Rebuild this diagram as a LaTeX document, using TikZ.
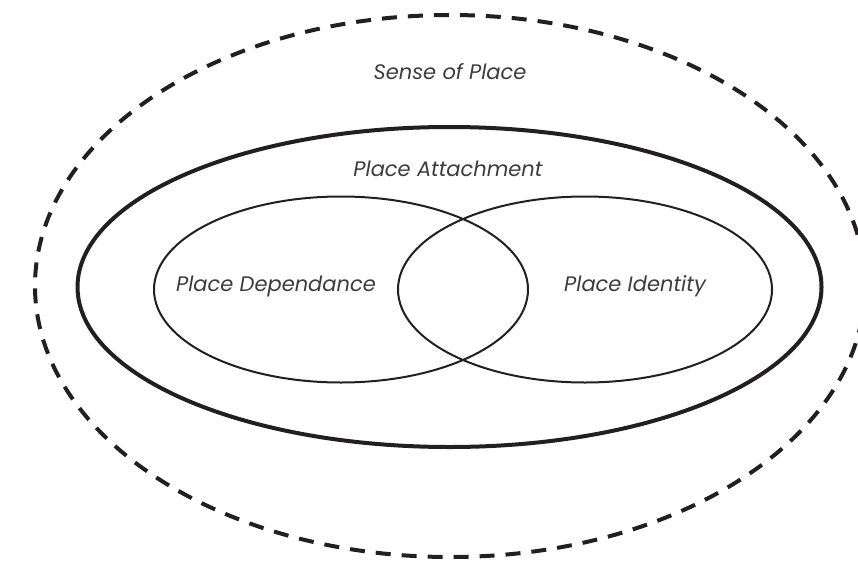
\documentclass[tikz,border=0pt]{standalone}
\usepackage{fontspec}
\setmainfont{Poppins}
\usetikzlibrary{shapes.geometric}
\definecolor{ink}{HTML}{231F20}
\definecolor{txt}{HTML}{3C3C3C}
\tikzset{
  ring/.style={ellipse, draw=ink, inner sep=0pt, outer sep=0pt},
  lab/.style={text=txt, font=\fontsize{21}{24}\selectfont\itshape, inner sep=0pt, anchor=base},
}
\begin{document}
\begin{tikzpicture}[x=1pt,y=-1pt]
\useasboundingbox (0,0) rectangle (858,562);
\clip (0,0) rectangle (858,562);
\node[ring, line width=4pt, dash pattern=on 15pt off 11pt, minimum width=830pt, minimum height=542pt] (sense) at (450,286) {};
\node[ring, line width=4pt, minimum width=744pt, minimum height=320pt] (attach) at (449.5,287) {};
\node[ring, line width=2pt, minimum width=374pt, minimum height=186pt] (dep) at (341,289.5) {};
\node[ring, line width=2pt, minimum width=374pt, minimum height=186pt] (ident) at (585,289.5) {};
\node[lab] (tsense) at (450,79) {Sense of Place};
\node[lab] (tattach) at (448,176) {Place Attachment};
\node[lab] (tdep) at (276,291.5) {Place Dependance};
\node[lab] (tident) at (635,291) {Place Identity};
\end{tikzpicture}
\end{document}
